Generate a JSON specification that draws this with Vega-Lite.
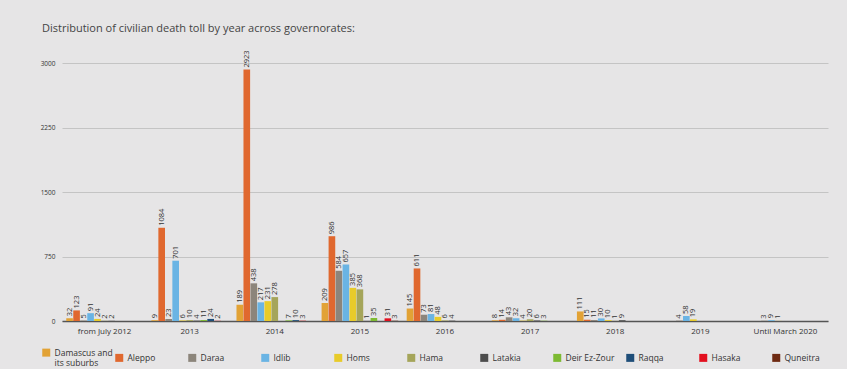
{
  "$schema": "https://vega.github.io/schema/vega-lite/v6.json",
  "width": 766,
  "height": 258,
  "autosize": {"type": "none"},
  "padding": {"left": 62, "top": 63, "right": 19, "bottom": 48},
  "background": "#e6e5e6",
  "title": {"text": "Distribution of civilian death toll by year across governorates:", "anchor": "start", "frame": "group", "dx": -20, "offset": 16, "fontSize": 11, "fontWeight": "normal", "color": "#444444", "font": "Open Sans"},
  "config": {"view": {"stroke": null}, "font": "Open Sans"},
  "data": {"values": [
    {"year": "from July 2012", "gov": "Damascus and its suburbs", "value": 32},
    {"year": "from July 2012", "gov": "Aleppo", "value": 123},
    {"year": "from July 2012", "gov": "Daraa", "value": 5},
    {"year": "from July 2012", "gov": "Idlib", "value": 91},
    {"year": "from July 2012", "gov": "Homs", "value": 24},
    {"year": "from July 2012", "gov": "Hama", "value": 2},
    {"year": "from July 2012", "gov": "Latakia", "value": 2},
    {"year": "2013", "gov": "Damascus and its suburbs", "value": 9},
    {"year": "2013", "gov": "Aleppo", "value": 1084},
    {"year": "2013", "gov": "Daraa", "value": 23},
    {"year": "2013", "gov": "Idlib", "value": 701},
    {"year": "2013", "gov": "Homs", "value": 6},
    {"year": "2013", "gov": "Hama", "value": 10},
    {"year": "2013", "gov": "Latakia", "value": 4},
    {"year": "2013", "gov": "Deir Ez-Zour", "value": 11},
    {"year": "2013", "gov": "Raqqa", "value": 24},
    {"year": "2013", "gov": "Hasaka", "value": 2},
    {"year": "2014", "gov": "Damascus and its suburbs", "value": 189},
    {"year": "2014", "gov": "Aleppo", "value": 2923},
    {"year": "2014", "gov": "Daraa", "value": 438},
    {"year": "2014", "gov": "Idlib", "value": 217},
    {"year": "2014", "gov": "Homs", "value": 231},
    {"year": "2014", "gov": "Hama", "value": 278},
    {"year": "2014", "gov": "Deir Ez-Zour", "value": 7},
    {"year": "2014", "gov": "Raqqa", "value": 10},
    {"year": "2014", "gov": "Hasaka", "value": 3},
    {"year": "2015", "gov": "Damascus and its suburbs", "value": 209},
    {"year": "2015", "gov": "Aleppo", "value": 986},
    {"year": "2015", "gov": "Daraa", "value": 584},
    {"year": "2015", "gov": "Idlib", "value": 657},
    {"year": "2015", "gov": "Homs", "value": 385},
    {"year": "2015", "gov": "Hama", "value": 368},
    {"year": "2015", "gov": "Latakia", "value": 1},
    {"year": "2015", "gov": "Deir Ez-Zour", "value": 35},
    {"year": "2015", "gov": "Hasaka", "value": 31},
    {"year": "2015", "gov": "Quneitra", "value": 3},
    {"year": "2016", "gov": "Damascus and its suburbs", "value": 145},
    {"year": "2016", "gov": "Aleppo", "value": 611},
    {"year": "2016", "gov": "Daraa", "value": 73},
    {"year": "2016", "gov": "Idlib", "value": 81},
    {"year": "2016", "gov": "Homs", "value": 48},
    {"year": "2016", "gov": "Hama", "value": 6},
    {"year": "2016", "gov": "Latakia", "value": 4},
    {"year": "2017", "gov": "Damascus and its suburbs", "value": 8},
    {"year": "2017", "gov": "Aleppo", "value": 14},
    {"year": "2017", "gov": "Daraa", "value": 43},
    {"year": "2017", "gov": "Idlib", "value": 32},
    {"year": "2017", "gov": "Homs", "value": 4},
    {"year": "2017", "gov": "Hama", "value": 20},
    {"year": "2017", "gov": "Latakia", "value": 6},
    {"year": "2017", "gov": "Deir Ez-Zour", "value": 3},
    {"year": "2018", "gov": "Damascus and its suburbs", "value": 111},
    {"year": "2018", "gov": "Aleppo", "value": 15},
    {"year": "2018", "gov": "Daraa", "value": 11},
    {"year": "2018", "gov": "Idlib", "value": 30},
    {"year": "2018", "gov": "Homs", "value": 10},
    {"year": "2018", "gov": "Hama", "value": 1},
    {"year": "2018", "gov": "Latakia", "value": 9},
    {"year": "2019", "gov": "Daraa", "value": 4},
    {"year": "2019", "gov": "Idlib", "value": 58},
    {"year": "2019", "gov": "Homs", "value": 19},
    {"year": "Until March 2020", "gov": "Daraa", "value": 3},
    {"year": "Until March 2020", "gov": "Idlib", "value": 9},
    {"year": "Until March 2020", "gov": "Homs", "value": 1}
  ]},
  "encoding": {
    "x": {"field": "year", "type": "nominal", "title": null,
      "sort": ["from July 2012", "2013", "2014", "2015", "2016", "2017", "2018", "2019", "Until March 2020"],
      "scale": {"paddingInner": 0.1, "paddingOuter": 0.05},
      "axis": {"labelAngle": 0, "labelFontSize": 8, "labelColor": "#333333", "ticks": false, "labelPadding": 6, "domainColor": "#555555", "domainWidth": 1.5, "grid": false}},
    "xOffset": {"field": "gov", "type": "nominal",
      "scale": {"domain": ["Damascus and its suburbs", "Aleppo", "Daraa", "Idlib", "Homs", "Hama", "Latakia", "Deir Ez-Zour", "Raqqa", "Hasaka", "Quneitra"], "paddingInner": 0.05}},
    "y": {"field": "value", "type": "quantitative", "title": null,
      "scale": {"domain": [0, 3000], "nice": false},
      "axis": {"values": [0, 750, 1500, 2250, 3000], "format": "d", "labelFontSize": 6.5, "labelColor": "#333333", "domain": false, "ticks": false, "labelPadding": 7, "gridColor": "#c4c4c4", "gridWidth": 1}}
  },
  "layer": [
    {"mark": {"type": "bar"},
      "encoding": {"color": {"field": "gov", "type": "nominal",
        "scale": {"domain": ["Damascus and its suburbs", "Aleppo", "Daraa", "Idlib", "Homs", "Hama", "Latakia", "Deir Ez-Zour", "Raqqa", "Hasaka", "Quneitra"],
          "range": ["#e2a235", "#e0682f", "#8c857b", "#6ab4e4", "#e8cb2a", "#a5a55a", "#4d4d4d", "#7dba33", "#1f4e79", "#e3101f", "#6e2a12"]},
        "legend": {"title": null, "orient": "none", "legendX": -20, "legendY": 285, "direction": "horizontal", "columns": 11, "gridAlign": "all", "columnPadding": 2,
          "symbolType": "square", "symbolSize": 64, "symbolStrokeWidth": 0, "symbolOpacity": 1, "labelFontSize": 8.5, "labelColor": "#333333", "labelOffset": 4, "labelLimit": 120,
          "labelExpr": "datum.label == 'Damascus and its suburbs' ? ['Damascus and', '   its suburbs'] : datum.label"}}}},
    {"mark": {"type": "text", "angle": -90, "align": "left", "baseline": "middle", "dx": 2, "fontSize": 7.5, "color": "#333333"},
      "encoding": {"text": {"field": "value", "type": "quantitative"}}}
  ]
}
